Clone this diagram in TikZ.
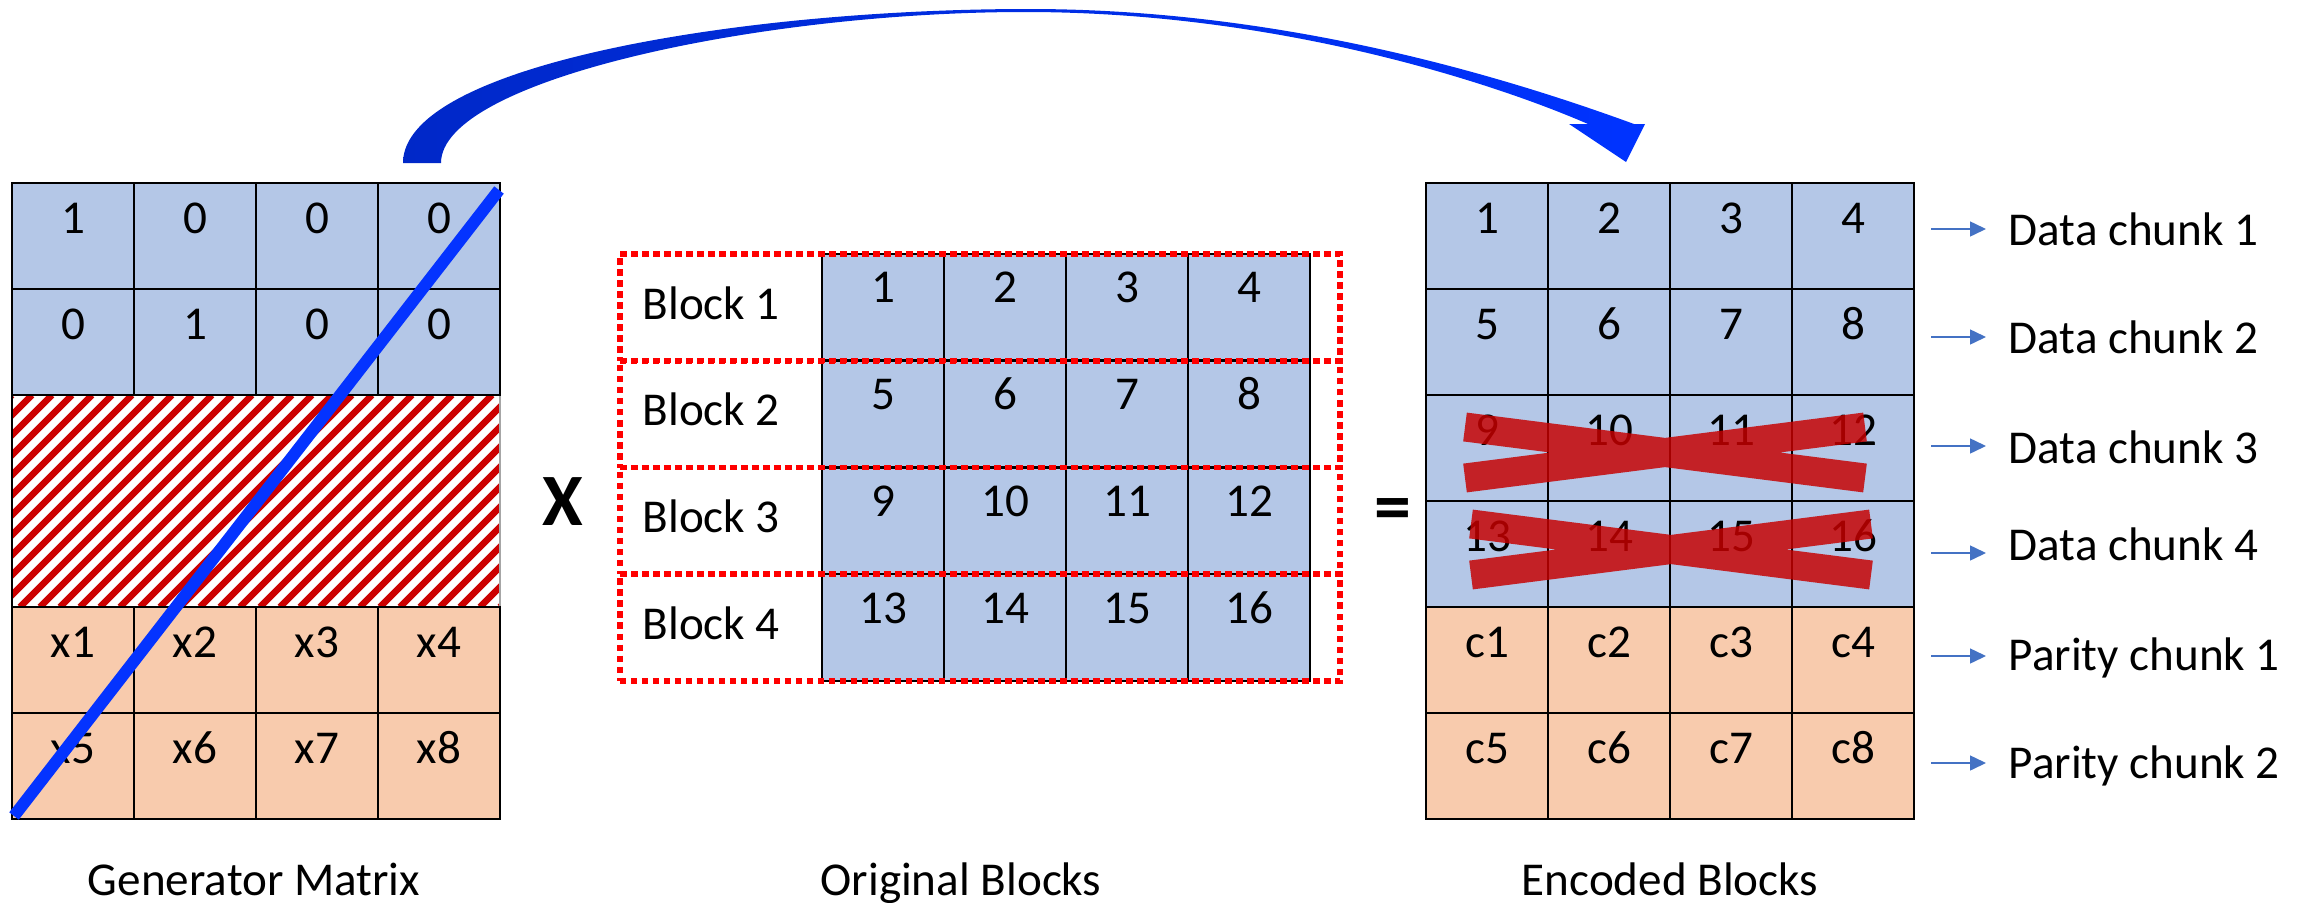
\documentclass[tikz,border=0pt]{standalone}
\usepackage{fontspec}
\setmainfont{Carlito}
\usetikzlibrary{arrows.meta}

\definecolor{cellblue}{RGB}{180,199,231}
\definecolor{cellorange}{RGB}{248,203,173}
\definecolor{hatchred}{RGB}{204,0,0}
\definecolor{diagblue}{RGB}{4,51,255}
\definecolor{arcdark}{RGB}{0,40,200}
\definecolor{arclight}{RGB}{0,51,255}
\definecolor{crossred}{RGB}{199,0,0}
\definecolor{chunkblue}{RGB}{68,114,196}
\definecolor{dotred}{RGB}{255,0,0}

\begin{document}
\begin{tikzpicture}[x=0.01cm, y=-0.01cm,
  every node/.style={font=\fontsize{13.4}{16}\selectfont},
  cell/.style={draw=black, line width=0.7pt, inner sep=0pt,
    minimum width=1.22cm, minimum height=1.06cm,
    text height=0.30cm, text depth=0.36cm},
  bluecell/.style={cell, fill=cellblue},
  orangecell/.style={cell, fill=cellorange},
  midcell/.style={cell, fill=cellblue, minimum height=1.0675cm, text depth=0.39cm},
  blockframe/.style={draw=dotred, line width=0.055cm,
    dash pattern=on 0.065cm off 0.045cm, inner sep=0pt,
    minimum width=7.2cm, minimum height=1.0675cm},
  blocklabel/.style={anchor=base west, inner sep=0pt},
  chunklabel/.style={anchor=base west, inner sep=0pt},
  chunkarrow/.style={draw=chunkblue, line width=0.015cm,
    -{Triangle[length=0.16cm, width=0.15cm]}, shorten >=0.22cm},
  caption/.style={anchor=base, inner sep=0pt},
  operator/.style={font=\fontsize{21}{24}\selectfont\bfseries, inner sep=0pt},
  cross/.style={draw=crossred, opacity=0.83, line width=0.29cm, line cap=butt}
]
\useasboundingbox (0,0) rectangle (2312,903);

% curved arrow from the generator matrix to the encoded blocks
\shade[left color=arcdark, right color=arclight]
  (403,163) .. controls (403,65) and (740,9) .. (1029,9)
  .. controls (1280,9) and (1500,75) .. (1634,124)
  -- (1645,124) -- (1626,162) -- (1569,124) -- (1588,124)
  .. controls (1496,84) and (1280,12) .. (1025,12)
  .. controls (760,12) and (441,80) .. (441,163) -- cycle;

% ---------------- generator matrix ----------------
\begin{scope}
  \fill[white] (12,395) rectangle (500,607);
  \clip (12,395) rectangle (500,607);
  \foreach \k in {-240,-220,...,520}
    \draw[hatchred, line width=0.065cm] (\k,607) -- (\k+212,395);
\end{scope}
\draw[black!35, line width=0.4pt] (12,395) rectangle (500,607);
\draw[black, line width=0.7pt] (12,395) -- (12,607);

\foreach \r in {1,2} {
  \foreach \c in {1,...,4} {
    \pgfmathtruncatemacro\v{\r==\c}
    \node[bluecell] (g-\r-\c) at ({122*\c-49},{106*\r+130}) {\v};
  }
}
\foreach \r in {5,6} {
  \foreach \c in {1,...,4} {
    \pgfmathtruncatemacro\k{4*(\r-5)+\c}
    \node[orangecell] (g-\r-\c) at ({122*\c-49},{106*\r+130}) {x\k};
  }
}
\coordinate (diag-a) at (14,816);
\coordinate (diag-b) at (499,190);
\draw[diagblue, line width=0.12cm] (diag-a) -- (diag-b);

\node[caption] (gen-cap) at (254,895) {Generator Matrix};

% multiplication sign
\node[operator] (times) at (563,502) {X};

% ---------------- original blocks ----------------
\foreach \r in {1,...,4} {
  \foreach \c in {1,...,4} {
    \pgfmathtruncatemacro\k{4*(\r-1)+\c}
    \node[midcell] (m-\r-\c) at ({122*\c+761},{106.75*\r+200.625}) {\k};
  }
}
\foreach \r in {1,...,4} {
  \node[blockframe] (b-\r) at (980,{106.75*\r+200.625}) {};
  \node[blocklabel] (bl-\r) at (642,{106.75*\r+212.25}) {Block \r};
}
\node[caption] (orig-cap) at (961,895) {Original Blocks};

% equals sign
\node[operator, anchor=base] (equals) at (1393,531) {=};

% ---------------- encoded blocks ----------------
\foreach \r in {1,...,4} {
  \foreach \c in {1,...,4} {
    \pgfmathtruncatemacro\k{4*(\r-1)+\c}
    \node[bluecell] (e-\r-\c) at ({122*\c+1365},{106*\r+130}) {\k};
  }
}
\foreach \r in {5,6} {
  \foreach \c in {1,...,4} {
    \pgfmathtruncatemacro\k{4*(\r-5)+\c}
    \node[orangecell] (e-\r-\c) at ({122*\c+1365},{106*\r+130}) {c\k};
  }
}
% lost data chunks
\draw[cross] (1465,427) -- (1865,478) (1465,478) -- (1865,427);
\draw[cross] (1471,524) -- (1871,575) (1471,575) -- (1871,524);

\node[caption] (enc-cap) at (1670,895) {Encoded Blocks};

% chunk labels with pointers
\foreach \i/\ay/\by/\txt in {1/229/245/Data chunk 1, 2/337/353/Data chunk 2,
    3/446/463/Data chunk 3, 4/553/560/Data chunk 4,
    5/656/670/Parity chunk 1, 6/763/778/Parity chunk 2} {
  \node[chunklabel] (lab-\i) at (2008,\by) {\txt};
  \coordinate (ptr-\i) at (1931,\ay);
  \draw[chunkarrow] (ptr-\i) -- (ptr-\i -| lab-\i.west);
}
\end{tikzpicture}
\end{document}
